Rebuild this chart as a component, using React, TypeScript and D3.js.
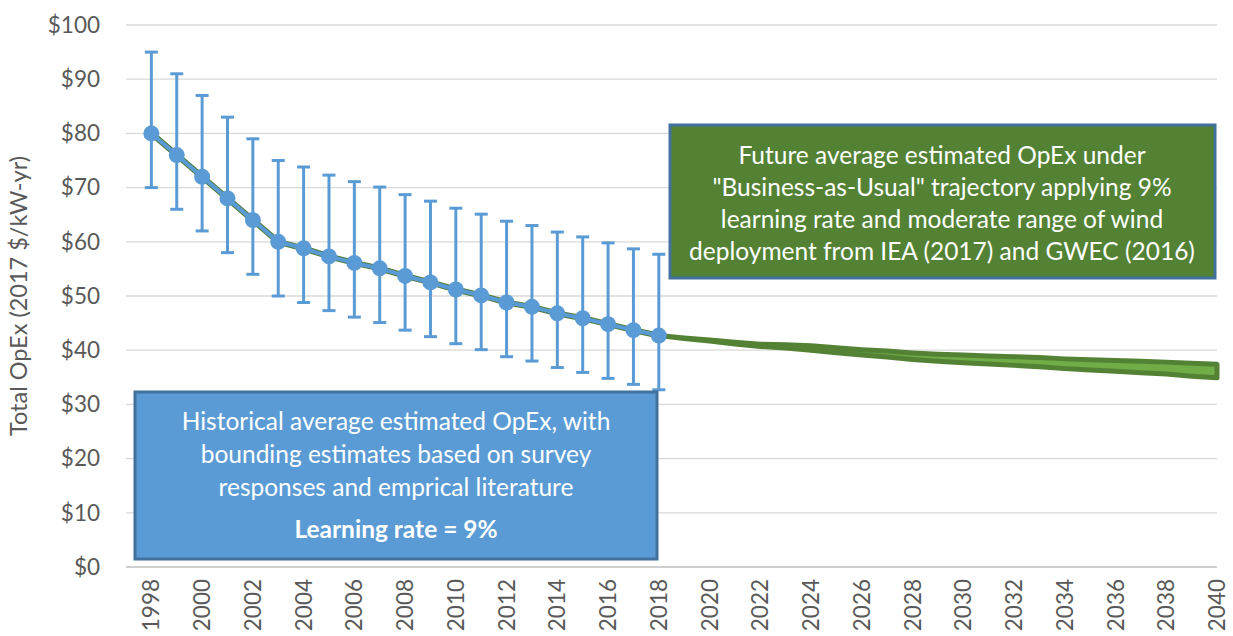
import React from "react";
import * as d3 from "d3";

const histYears = [1998,1999,2000,2001,2002,2003,2004,2005,2006,2007,2008,2009,2010,2011,2012,2013,2014,2015,2016,2017,2018];
const histValues = [80,76,72,68,64,60,58.8,57.3,56.1,55.1,53.7,52.5,51.2,50.1,48.8,48.0,46.8,45.9,44.8,43.7,42.7];
const histHigh = [95,91,87,83,79,75,73.8,72.3,71.1,70.1,68.7,67.5,66.2,65.1,63.8,63.0,61.8,60.9,59.8,58.7,57.7];
const histLow = [70,66,62,58,54,50,48.8,47.3,46.1,45.1,43.7,42.5,41.2,40.1,38.8,38.0,36.8,35.9,34.8,33.7,32.7];

const futYears = [2018,2019,2020,2021,2022,2023,2024,2025,2026,2027,2028,2029,2030,2031,2032,2033,2034,2035,2036,2037,2038,2039,2040];
const futHigh = [42.7,42.25,41.9,41.45,41.1,41.0,40.8,40.45,40.1,39.85,39.5,39.25,39.1,38.95,38.8,38.65,38.4,38.25,38.1,37.95,37.8,37.6,37.4];
const futLow = [42.7,42.15,41.7,41.15,40.7,40.4,40.0,39.55,39.1,38.75,38.3,37.95,37.7,37.45,37.2,36.95,36.6,36.35,36.1,35.85,35.6,35.2,34.9];

const yTicks = [0,10,20,30,40,50,60,70,80,90,100];
const xTickYears = [1998,2000,2002,2004,2006,2008,2010,2012,2014,2016,2018,2020,2022,2024,2026,2028,2030,2032,2034,2036,2038,2040];

const yTitle = "Total OpEx (2017 $/kW-yr)";
const blueBoxLines = ["Historical average estimated OpEx, with", "bounding estimates based on survey", "responses and emprical literature"];
const blueBoxBold = "Learning rate = 9%";
const greenBoxLines = ["Future average estimated OpEx under", "\"Business-as-Usual\" trajectory applying 9%", "learning rate and moderate range of wind", "deployment from IEA (2017) and GWEC (2016)"];

const FONT = "Lato, 'Open Sans', sans-serif";

export default function App() {
  const W = 1233, H = 636;
  const x = d3.scaleLinear().domain([1997, 2040]).range([126, 1217]);
  const y = d3.scaleLinear().domain([0, 100]).range([567, 25]);

  const histLine = d3.line<number>().x((_, i) => x(histYears[i])).y((d) => y(d))(histValues) || "";
  const band = d3
    .area<number>()
    .x((_, i) => x(futYears[i]))
    .y0((_, i) => y(futLow[i]))
    .y1((d) => y(d))(futHigh) || "";

  const axisColor = "#595959";

  return (
    <svg width={W} height={H} style={{ position: "absolute", left: 0, top: 0, background: "#fff" }} fontFamily={FONT}>
      {/* gridlines */}
      {yTicks.filter((t) => t > 0).map((t) => (
        <line key={t} x1={x(1997)} x2={x(2040)} y1={y(t)} y2={y(t)} stroke="#d9d9d9" strokeWidth={1.3} />
      ))}
      <line x1={x(1997)} x2={x(2040)} y1={y(0)} y2={y(0)} stroke="#bfbfbf" strokeWidth={1.5} />
      {/* y tick labels */}
      {yTicks.map((t) => (
        <text key={t} x={100} y={y(t)} dy="0.35em" textAnchor="end" fontSize={22.5} fill={axisColor}>
          {"$" + t}
        </text>
      ))}
      {/* x tick labels */}
      {xTickYears.map((yr) => (
        <text
          key={yr}
          transform={`translate(${x(yr) + 8},${579}) rotate(-90)`}
          textAnchor="end"
          fontSize={22.5}
          fill={axisColor}
        >
          {yr}
        </text>
      ))}
      {/* y title */}
      <text transform={`translate(27,${y(50)}) rotate(-90)`} textAnchor="middle" fontSize={23.5} fill={axisColor}>
        {yTitle}
      </text>

      {/* error bars */}
      {histYears.map((yr, i) => (
        <g key={yr} stroke="#5b9bd5" strokeWidth={3}>
          <line x1={x(yr)} x2={x(yr)} y1={y(histHigh[i])} y2={y(histLow[i])} />
          <line x1={x(yr) - 6.5} x2={x(yr) + 6.5} y1={y(histHigh[i])} y2={y(histHigh[i])} />
          <line x1={x(yr) - 6.5} x2={x(yr) + 6.5} y1={y(histLow[i])} y2={y(histLow[i])} />
        </g>
      ))}

      {/* future band */}
      <path d={band} fill="#70ad47" stroke="#548235" strokeWidth={5} strokeLinejoin="round" />

      {/* historical line */}
      <path d={histLine} fill="none" stroke="#4e7d3a" strokeWidth={6} strokeLinejoin="round" />
      <path d={histLine} fill="none" stroke="#5b9bd5" strokeWidth={4} strokeLinejoin="round" />
      {histYears.map((yr, i) => (
        <circle key={yr} cx={x(yr)} cy={y(histValues[i])} r={8} fill="#5b9bd5" />
      ))}

      {/* blue box */}
      <rect x={135} y={392} width={522} height={167} fill="#5b9bd5" stroke="#41719c" strokeWidth={3} />
      {blueBoxLines.map((l, i) => (
        <text key={i} x={396} y={421 + i * 33} dy="0.35em" textAnchor="middle" fontSize={24.5} fill="#fff">
          {l}
        </text>
      ))}
      <text x={396} y={529} dy="0.35em" textAnchor="middle" fontSize={24.5} fontWeight="bold" fill="#fff">
        {blueBoxBold}
      </text>

      {/* green box */}
      <rect x={670} y={125} width={545} height={153} fill="#548235" stroke="#41719c" strokeWidth={3} />
      {greenBoxLines.map((l, i) => (
        <text key={i} x={942} y={155 + i * 32} dy="0.35em" textAnchor="middle" fontSize={24.5} fill="#fff">
          {l}
        </text>
      ))}
    </svg>
  );
}
